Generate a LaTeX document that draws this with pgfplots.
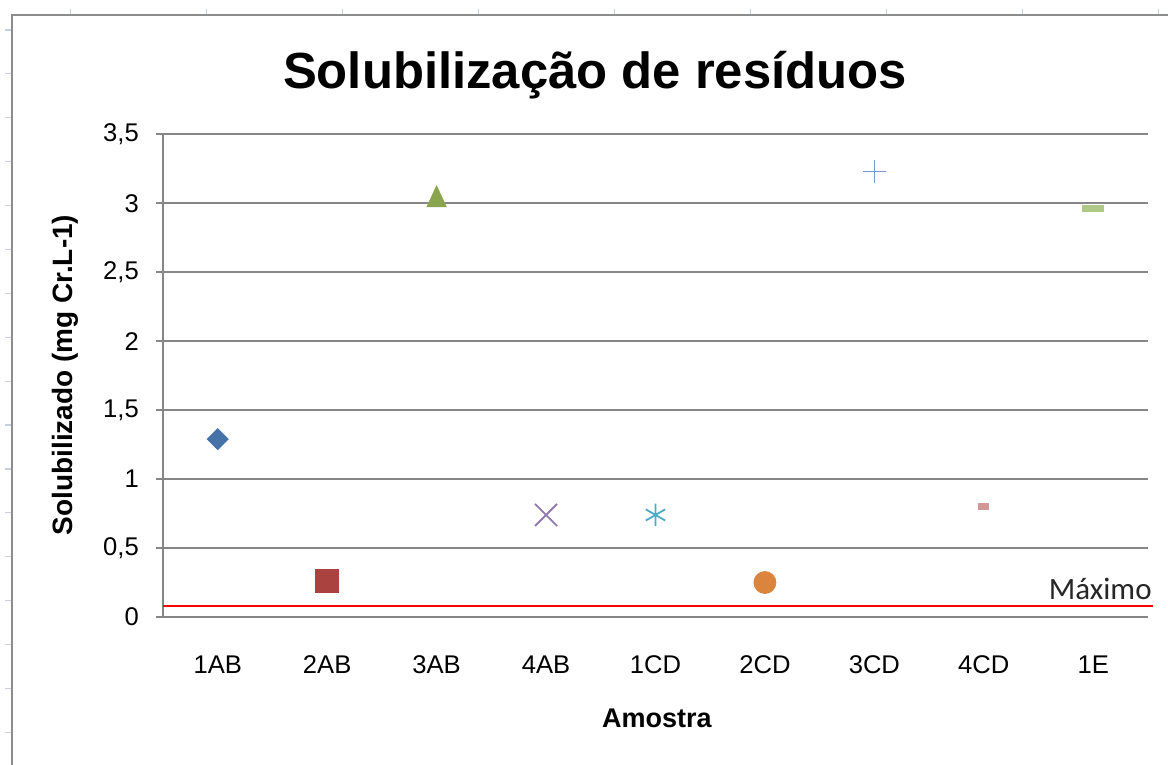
\documentclass[border=0pt]{standalone}
\usepackage{pgfplots}
\pgfplotsset{compat=1.18}
\usepackage{fontspec}
\setmainfont{Liberation Sans}
\newfontfamily\carlito{Carlito}
\definecolor{gridgray}{RGB}{134,134,134}
\definecolor{framegray}{RGB}{140,140,140}
\definecolor{cellgray}{RGB}{200,208,220}
\definecolor{cA}{RGB}{69,114,167}
\definecolor{cB}{RGB}{170,67,64}
\definecolor{cC}{RGB}{137,165,78}
\definecolor{cD}{RGB}{145,122,175}
\definecolor{cE}{RGB}{75,172,198}
\definecolor{cF}{RGB}{219,132,61}
\definecolor{cG}{RGB}{125,150,205}
\definecolor{cH}{RGB}{210,150,150}
\definecolor{cI}{RGB}{175,200,135}
\begin{document}
\begin{tikzpicture}[x=0.5pt,y=0.5pt]
\useasboundingbox (0,0) rectangle (1168,765);
\fill[white] (0,0) rectangle (1168,765);
\foreach \xx in {70.7,206.7,...,1168} \draw[cellgray, line width=0.6pt] (\xx,750) -- (\xx,756);
\foreach \yy in {735,691.1,...,0} \draw[cellgray, line width=0.6pt] (5,\yy) -- (11,\yy);
\draw[framegray, line width=1pt] (11.5,0) -- (11.5,750) -- (1168,750);
\begin{axis}[
  at={(81.5pt,74pt)}, anchor=south west,
  scale only axis, width=492.5pt, height=241.35pt,
  xmin=-0.5, xmax=8.5, ymin=0, ymax=3.5,
  clip=false,
  axis lines=left,
  axis line style={-, draw=gridgray, line width=1pt},
  xtick={0,...,8},
  xticklabels={1AB,2AB,3AB,4AB,1CD,2CD,3CD,4CD,1E},
  ytick={0,0.5,...,3.5},
  ymajorgrids,
  grid style={gridgray, line width=1pt},
  xtick style={draw=none},
  ytick style={draw=gridgray, line width=1pt},
  tick align=center,
  major tick length=6.5pt,
  tick label style={font=\fontsize{12.8}{15}\selectfont},
  /pgf/number format/assume math mode=true,
  yticklabel style={/pgf/number format/use comma, xshift=-5.3pt},
  xticklabel style={anchor=north, text height=9.4pt, text depth=0pt, yshift=-12.3pt},
]
\addplot[only marks, color=cA, mark=square*, mark size=3.7pt, mark options={rotate=45, fill=cA, draw=cA}] coordinates {(0,1.29)};
\addplot[only marks, color=cB, mark=square*, mark size=5.75pt, mark options={fill=cB, draw=cB}] coordinates {(1,0.26)};
\addplot[only marks, color=cC, mark=triangle*, mark size=5.5pt, mark options={yshift=-1.7pt, yscale=1.25, fill=cC, draw=cC}] coordinates {(2,3.05)};
\addplot[only marks, color=cD, mark=x, mark size=7.8pt, mark options={line width=0.9pt}] coordinates {(3,0.74)};
\addplot[only marks, color=cE, mark=asterisk, mark size=5.6pt, mark options={line width=0.9pt}] coordinates {(4,0.74)};
\addplot[only marks, color=cF, mark=*, mark size=5.5pt, mark options={fill=cF, draw=cF}] coordinates {(5,0.25)};
\addplot[only marks, color=cG, mark=+, mark size=5.75pt, mark options={line width=0.8pt}] coordinates {(6,3.23)};
\addplot[only marks, color=cH, mark=-, mark size=2.75pt, mark options={line width=3.3pt}] coordinates {(7,0.80)};
\addplot[only marks, color=cI, mark=-, mark size=5.5pt, mark options={line width=3.3pt}] coordinates {(8,2.96)};
\addplot[red, line width=1pt, mark=none] coordinates {(-0.5,0.08) (8.55,0.08)};
\end{axis}
\node[anchor=base, font=\bfseries\fontsize{25.4}{30}\selectfont] at (595,676) {Solubilização de resíduos};
\node[rotate=90, anchor=center, font=\bfseries\fontsize{14}{17}\selectfont] at (65,390) {Solubilizado (mg Cr.L-1)};
\node[anchor=center, font=\bfseries\fontsize{13.5}{16}\selectfont] at (657,47) {Amostra};
\node[anchor=base east, inner sep=0pt, font=\carlito\fontsize{15.5}{18}\selectfont, text=black!85] at (1152,165) {Máximo};
\end{tikzpicture}
\end{document}
